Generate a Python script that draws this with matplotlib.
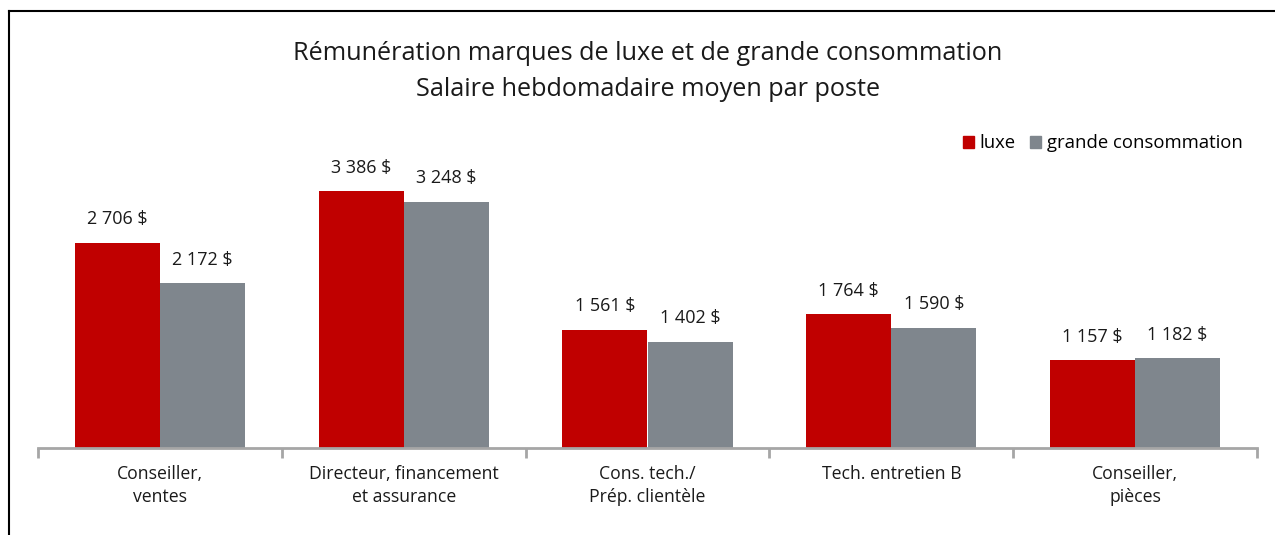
import matplotlib
matplotlib.use("Agg")
import matplotlib.pyplot as plt
from matplotlib.lines import Line2D
from matplotlib.patches import Patch

categories = ["Conseiller,\nventes", "Directeur, financement\net assurance",
              "Cons. tech./\nPrép. clientèle", "Tech. entretien B", "Conseiller,\npièces"]
luxe = [2706, 3386, 1561, 1764, 1157]
grande = [2172, 3248, 1402, 1590, 1182]
series_names = ["luxe", "grande consommation"]

RED = "#C00000"
GREY = "#7F868D"
AXC = "#A6A6A6"
TXT = "#1a1a1a"
FONT = "Open Sans"
plt.rcParams['font.family'] = [FONT, 'DejaVu Sans']

W, H = 1275, 535
fig = plt.figure(figsize=(W/100, H/100), dpi=100)
ax = fig.add_axes([38/W, 1-448/H, (1257-38)/W, (448-130)/H])

n = len(categories)
xs = list(range(n))
bw = 0.349
b1 = ax.bar([x - bw/2 for x in xs], luxe, width=bw, color=RED, label=series_names[0])
b2 = ax.bar([x + bw/2 for x in xs], grande, width=bw, color=GREY, label=series_names[1])

def fmt(v):
    return f"{v:,}".replace(",", " ") + " $"

for bars, vals in ((b1, luxe), (b2, grande)):
    for r, v in zip(bars, vals):
        ax.annotate(fmt(v), (r.get_x() + r.get_width()/2, v), xytext=(0, 17),
                    textcoords="offset points", ha="center", va="center",
                    fontsize=13, color=TXT)

ax.set_xlim(-0.5, n - 0.5)
ax.set_ylim(0, (448-130)/0.07576)
for s in ("top", "right", "left"):
    ax.spines[s].set_visible(False)
ax.spines["bottom"].set_color(AXC)
ax.spines["bottom"].set_linewidth(2)
ax.set_yticks([])
ax.set_xticks([x - 0.5 for x in range(n + 1)])
ax.set_xticklabels([])
ax.tick_params(axis="x", length=7, width=2, color=AXC)
for x, c in zip(xs, categories):
    ax.annotate(c, (x, 0), xytext=(0, -12), textcoords="offset points",
                ha="center", va="top", fontsize=12.7, color=TXT, linespacing=1.35)

leg = ax.legend(handles=[Patch(color=RED), Patch(color=GREY)], labels=series_names,
                loc="upper right", bbox_to_anchor=((1250-38)/(1257-38), 1 + 3/318),
                frameon=False, fontsize=13.3, handlelength=0.6, handleheight=0.6,
                handletextpad=0.3, columnspacing=0.8, ncol=2, borderaxespad=0)

fig.text(0.508, 1-53/H, "Rémunération marques de luxe et de grande consommation",
         ha="center", va="center", fontsize=18.2, color=TXT)
fig.text(0.508, 1-89/H, "Salaire hebdomadaire moyen par poste",
         ha="center", va="center", fontsize=18.2, color=TXT)

# frame lines
fig.add_artist(Line2D([9/W, 9/W], [0, 1-11/H], color="black", lw=1.5))
fig.add_artist(Line2D([9/W, 1], [1-11/H, 1-11/H], color="black", lw=1.5))

fig.savefig("out.png", dpi=100)
